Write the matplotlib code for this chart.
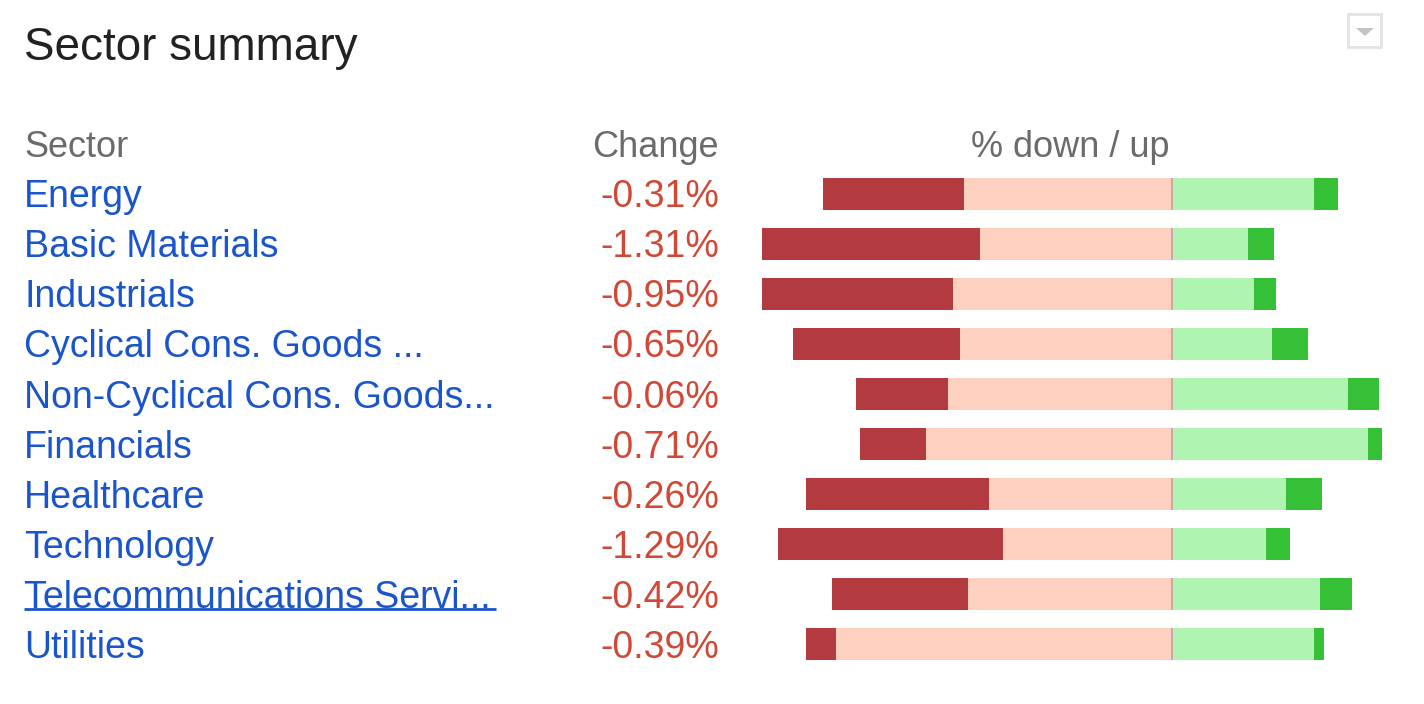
import matplotlib.pyplot as plt
from matplotlib.patches import Rectangle, Polygon
import numpy as np

plt.rcParams['font.family'] = ['Liberation Sans', 'DejaVu Sans']

sectors = ['Energy', 'Basic Materials', 'Industrials', 'Cyclical Cons. Goods ...',
           'Non-Cyclical Cons. Goods...', 'Financials', 'Healthcare', 'Technology',
           'Telecommunications Servi...', 'Utilities']
changes = ['-0.31%', '-1.31%', '-0.95%', '-0.65%', '-0.06%',
           '-0.71%', '-0.26%', '-1.29%', '-0.42%', '-0.39%']
# share of stocks (%): strongly down, slightly down, slightly up, strongly up
down_big = np.array([27.4, 42.5, 37.1, 32.4, 18.0, 12.9, 35.5, 43.7, 26.5, 5.8])
down_small = np.array([40.3, 37.2, 42.6, 41.1, 43.4, 47.7, 35.6, 32.9, 39.6, 65.3])
up_small = np.array([27.6, 14.7, 15.9, 19.4, 34.2, 38.1, 22.2, 18.2, 28.8, 27.6])
up_big = np.array([4.7, 5.1, 4.3, 7.0, 5.9, 2.7, 7.0, 4.7, 6.2, 1.9])

W, H = 1424, 704
fig = plt.figure(figsize=(W / 100, H / 100), dpi=100)
ax = fig.add_axes([0, 0, 1, 1])
ax.axis('off')

# map: 0% at x=1172 px, 5.15 px per %, rows 50 px apart starting at y=194
center, pxp = 1172, 5.15
ax.set_xlim(-center / pxp, (W - center) / pxp)
ax.set_ylim((H - 194) / 50, -194 / 50)

rows = np.arange(len(sectors))
h = 0.64
ax.barh(rows, -down_small, height=h, color='#fdd0c0', linewidth=0)
ax.barh(rows, -down_big, left=-down_small, height=h, color='#b33b3f', linewidth=0)
ax.barh(rows, up_small, height=h, color='#aff4b1', linewidth=0)
ax.barh(rows, up_big, left=up_small, height=h, color='#35c038', linewidth=0)
ax.barh(rows, 0.4, left=-0.2, height=h, color='#c8aaa2', linewidth=0)

tr = ax.get_yaxis_transform()
fs, hfs = 27, 26
dy = 0.07
ax.text(24 / W, -2.98 + dy, 'Sector summary', transform=tr, fontsize=33, color='#222222',
        va='center', ha='left')
ax.text(24 / W, -1 + dy, 'Sector', transform=tr, fontsize=hfs, color='#6b6b6b', va='center', ha='left')
ax.text(719 / W, -1 + dy, 'Change', transform=tr, fontsize=hfs, color='#6b6b6b', va='center', ha='right')
ax.text(1070 / W, -1 + dy, '% down / up', transform=tr, fontsize=hfs, color='#6b6b6b', va='center', ha='center')

for i, (s, c) in enumerate(zip(sectors, changes)):
    ax.text(24 / W, i + dy, s, transform=tr, fontsize=fs, color='#1a55cc', va='center', ha='left')
    ax.text(719 / W, i + dy, c, transform=tr, fontsize=fs, color='#d14836', va='center', ha='right')

# hovered link underline
ax.plot([24 / W, 496 / W], [8.3, 8.3], transform=tr, color='#1a55cc', lw=2, solid_capstyle='butt')

# dropdown button
fig.patches.append(Rectangle((1348 / W, 1 - 47 / H), 33 / W, 33 / H, transform=fig.transFigure,
                             facecolor='white', edgecolor='#e2e2e2', lw=2))
fig.patches.append(Polygon([(1356 / W, 1 - 28 / H), (1374 / W, 1 - 28 / H), (1365 / W, 1 - 36 / H)],
                           closed=True, transform=fig.transFigure, facecolor='#c4c4c4', edgecolor='none'))

fig.savefig('out.png', dpi=100)
